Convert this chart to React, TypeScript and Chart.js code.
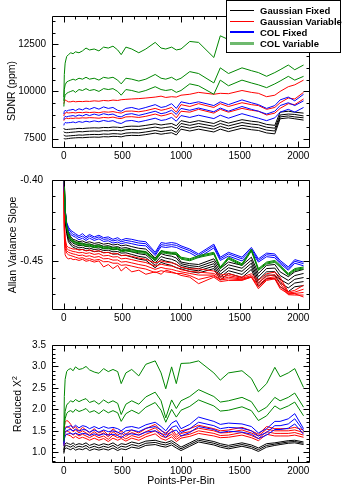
import React, { useEffect, useRef } from "react";
import { Chart, registerables } from "chart.js";

Chart.register(...registerables);

const FONT = '"Liberation Sans", Arial, Helvetica, sans-serif';

// ---------- shared x values (points per bin) ----------
const PPB = [
  1, 5, 12, 25, 40, 60, 80, 100, 130, 160,
  190, 220, 260, 300, 340, 380, 420, 460, 490, 530,
  580, 640, 700, 780, 830, 870, 920, 960, 1000, 1075,
  1150, 1280, 1335, 1405, 1520, 1600, 1660, 1730, 1800, 1845,
  1915, 1970, 2045,
];

const X_LABEL_VALUES = [0, 500, 1000, 1500, 2000];
const X_LABEL_TEXT = ["0", "500", "1000", "1500", "2000"];

const SDNR_TICK_VALUES = [7500, 10000, 12500];
const SDNR_TICK_TEXT = ["7500", "10000", "12500"];
const SLOPE_TICK_VALUES = [-0.45, -0.4];
const SLOPE_TICK_TEXT = ["-0.45", "-0.40"];
const CHI_TICK_VALUES = [1, 1.5, 2, 2.5, 3, 3.5];
const CHI_TICK_TEXT = ["1.0", "1.5", "2.0", "2.5", "3.0", "3.5"];

const LEGEND_LABELS = ["Gaussian Fixed", "Gaussian Variable", "COL Fixed", "COL Variable"];
const LINE_COLORS = ["#000000", "#ff0000", "#0000ff", "rgb(0,135,0)"];
const LEGEND_SAMPLE_COLORS = ["#000000", "#ff0000", "#0000ff", "rgb(110,185,110)"];
const LEGEND_SAMPLE_WIDTHS = [1, 1, 2, 3];

// ---------- SDNR (ppm) ----------
const SDNR_GF_1 = [
  8050, 8000, 7990, 7980, 7990, 8000, 8010, 8020, 8040, 8030,
  8050, 8060, 8070, 8060, 8090, 8080, 8110, 8100, 8080, 8140,
  8160, 8150, 8200, 8280, 8220, 8260, 8300, 8180, 8450, 8350,
  8450, 8300, 8450, 8320, 8500, 8420, 8380, 8250, 8200, 8900,
  8950, 8900, 8850,
];
const SDNR_GF_2 = [
  7870, 7830, 7820, 7810, 7815, 7830, 7840, 7850, 7870, 7860,
  7880, 7890, 7900, 7890, 7920, 7910, 7940, 7930, 7910, 7970,
  7990, 7980, 8030, 8110, 8050, 8090, 8130, 8010, 8300, 8200,
  8300, 8150, 8300, 8170, 8350, 8270, 8230, 8100, 8050, 8750,
  8800, 8780, 8700,
];
const SDNR_GF_3 = [
  7700, 7660, 7640, 7630, 7640, 7650, 7660, 7670, 7690, 7680,
  7700, 7710, 7720, 7710, 7740, 7730, 7760, 7750, 7730, 7790,
  7810, 7800, 7850, 7930, 7870, 7910, 7950, 7830, 8150, 8050,
  8150, 8000, 8150, 8020, 8200, 8120, 8080, 7950, 7900, 8650,
  8700, 8650, 8600,
];
const SDNR_GF_4 = [
  7520, 7490, 7480, 7490, 7500, 7520, 7530, 7540, 7550, 7545,
  7560, 7570, 7580, 7570, 7600, 7590, 7620, 7610, 7590, 7650,
  7670, 7660, 7710, 7790, 7730, 7770, 7810, 7690, 8000, 7900,
  8000, 7850, 8000, 7870, 8050, 7970, 7930, 7800, 7750, 8550,
  8600, 8550, 8480,
];
const SDNR_GV_1 = [
  9350, 9450, 9550, 9500, 9450, 9450, 9480, 9450, 9470, 9460,
  9480, 9470, 9500, 9480, 9520, 9500, 9540, 9520, 9560, 9580,
  9600, 9620, 9650, 9700, 9750, 9680, 9720, 9700, 9800, 9850,
  9950, 9850, 9900, 9880, 10050, 9950, 9900, 9720, 9800, 10000,
  10250, 10350, 10600,
];
const SDNR_GV_2 = [
  8700, 8800, 8850, 8880, 8860, 8870, 8880, 8860, 8890, 8870,
  8900, 8880, 8900, 8870, 8920, 8900, 8930, 8880, 8850, 8950,
  8960, 8920, 8980, 9100, 9000, 9050, 9150, 8900, 9300, 9200,
  9350, 9150, 9350, 9200, 9400, 9300, 9250, 9050, 9150, 9400,
  9650, 9600, 9950,
];
const SDNR_GV_3 = [
  8450, 8520, 8550, 8580, 8560, 8580, 8570, 8590, 8580, 8600,
  8590, 8610, 8600, 8580, 8620, 8600, 8640, 8580, 8560, 8650,
  8660, 8620, 8680, 8800, 8700, 8750, 8850, 8600, 8950, 8900,
  9050, 8850, 9050, 8900, 9100, 9000, 8950, 8750, 8850, 9100,
  9350, 9300, 9600,
];
const SDNR_CF_1 = [
  8800, 8950, 9000, 8950, 9000, 9020, 9050, 8980, 9080, 9020,
  9120, 9050, 9150, 9060, 9180, 9100, 9150, 9000, 8950, 9100,
  9150, 9050, 9150, 9300, 9150, 9200, 9350, 9100, 9450, 9350,
  9450, 9250, 9450, 9300, 9550, 9400, 9300, 9100, 9250, 9550,
  9700, 9500, 9850,
];
const SDNR_CF_2 = [
  8500, 8620, 8680, 8650, 8680, 8700, 8720, 8680, 8750, 8700,
  8780, 8720, 8800, 8730, 8820, 8760, 8800, 8680, 8650, 8780,
  8820, 8730, 8820, 8950, 8820, 8870, 9000, 8780, 9100, 9000,
  9120, 8920, 9120, 8950, 9200, 9050, 8950, 8800, 8950, 9250,
  9400, 9250, 9500,
];
const SDNR_CF_3 = [
  8200, 8300, 8350, 8330, 8340, 8350, 8380, 8340, 8400, 8360,
  8420, 8380, 8440, 8390, 8460, 8410, 8450, 8340, 8300, 8430,
  8460, 8380, 8460, 8580, 8460, 8500, 8620, 8420, 8720, 8620,
  8740, 8560, 8740, 8580, 8820, 8680, 8580, 8450, 8600, 8900,
  9050, 8900, 9150,
];
const SDNR_CV_1 = [
  9700, 10900, 11500, 11850, 11950, 12050, 12000, 12100, 12050, 12150,
  12300, 12200, 12250, 12150, 12350, 12300, 12400, 12200, 11950, 12350,
  12250, 12050, 12250, 12600, 12300, 12250, 12350, 12200, 12250, 12650,
  12600, 11800, 12950, 12750, 12900, 12800, 12700, 12600, 12750, 12850,
  12950, 12800, 12900,
];
const SDNR_CV_2 = [
  9500, 10100, 10350, 10500, 10550, 10600, 10650, 10600, 10700, 10650,
  10750, 10650, 10700, 10600, 10750, 10700, 10750, 10600, 10400, 10700,
  10650, 10550, 10650, 10900, 10700, 10650, 10750, 10600, 10700, 11050,
  10950, 10450, 11250, 10950, 11250, 11100, 11000, 10800, 11000, 11150,
  11400, 11150, 11400,
];
const SDNR_CV_3 = [
  9200, 9600, 9800, 9900, 9950, 10000, 10050, 9950, 10100, 10050,
  10150, 10050, 10100, 10000, 10150, 10100, 10150, 10000, 9800, 10100,
  10050, 9950, 10050, 10250, 10100, 10050, 10100, 9950, 10050, 10400,
  10300, 9850, 10600, 10300, 10600, 10450, 10350, 10200, 10400, 10550,
  10800, 10600, 10800,
];

// ---------- Allan variance slope ----------
const SLOPE_GF_1 = [
  -0.37, -0.40, -0.418, -0.427, -0.432, -0.435, -0.4365, -0.437, -0.438, -0.4375,
  -0.4385, -0.438, -0.439, -0.4385, -0.4395, -0.439, -0.440, -0.4395, -0.4405, -0.440,
  -0.441, -0.442, -0.4425, -0.448, -0.4435, -0.4445, -0.445, -0.446, -0.4505, -0.4515,
  -0.452, -0.4485, -0.4545, -0.4505, -0.4525, -0.4475, -0.4575, -0.4525, -0.452, -0.4565,
  -0.4595, -0.4565, -0.455,
];
const SLOPE_GF_2 = [
  -0.372, -0.402, -0.42, -0.4285, -0.4335, -0.4362, -0.4377, -0.4382, -0.4392, -0.4388,
  -0.4397, -0.4393, -0.4402, -0.4398, -0.4408, -0.4404, -0.4414, -0.441, -0.442, -0.4416,
  -0.4426, -0.4437, -0.4443, -0.4495, -0.4453, -0.4463, -0.4469, -0.448, -0.4515, -0.4527,
  -0.4533, -0.45, -0.4562, -0.4522, -0.4543, -0.4493, -0.4595, -0.4545, -0.4542, -0.4588,
  -0.4618, -0.4588, -0.4575,
];
const SLOPE_GF_3 = [
  -0.374, -0.404, -0.422, -0.430, -0.435, -0.4375, -0.439, -0.4395, -0.4405, -0.4401,
  -0.441, -0.4406, -0.4415, -0.4411, -0.4421, -0.4418, -0.4428, -0.4425, -0.4435, -0.4432,
  -0.4442, -0.4454, -0.446, -0.451, -0.4471, -0.4481, -0.4488, -0.45, -0.4526, -0.4539,
  -0.4546, -0.4515, -0.458, -0.454, -0.4562, -0.4512, -0.4615, -0.4565, -0.4564, -0.4611,
  -0.4641, -0.4611, -0.46,
];
const SLOPE_GF_4 = [
  -0.376, -0.406, -0.424, -0.4315, -0.4365, -0.4388, -0.4403, -0.4408, -0.4418, -0.4414,
  -0.4423, -0.4419, -0.4428, -0.4424, -0.4434, -0.4432, -0.4442, -0.444, -0.445, -0.4448,
  -0.4458, -0.447, -0.4477, -0.4525, -0.4489, -0.4499, -0.4507, -0.452, -0.4537, -0.4551,
  -0.4559, -0.453, -0.4598, -0.4558, -0.4581, -0.4531, -0.4635, -0.4585, -0.4586, -0.4634,
  -0.4664, -0.4634, -0.4625,
];
const SLOPE_GF_5 = [
  -0.378, -0.408, -0.426, -0.433, -0.438, -0.440, -0.4415, -0.442, -0.443, -0.4427,
  -0.4436, -0.4432, -0.4441, -0.4437, -0.4447, -0.4446, -0.4456, -0.4455, -0.4465, -0.4464,
  -0.4474, -0.4487, -0.4494, -0.454, -0.4507, -0.4517, -0.4526, -0.454, -0.4547, -0.4563,
  -0.4572, -0.4545, -0.4615, -0.4575, -0.46, -0.455, -0.4655, -0.4605, -0.4608, -0.4657,
  -0.4687, -0.4657, -0.465,
];
const SLOPE_GV_1 = [
  -0.39, -0.425, -0.436, -0.4405, -0.4415, -0.442, -0.4425, -0.4425, -0.443, -0.4428,
  -0.4435, -0.443, -0.444, -0.4435, -0.4448, -0.4445, -0.4455, -0.4452, -0.4465, -0.4462,
  -0.447, -0.448, -0.4488, -0.451, -0.4498, -0.4505, -0.451, -0.4518, -0.4537, -0.4547,
  -0.4547, -0.456, -0.4585, -0.4577, -0.4598, -0.4577, -0.4618, -0.4577, -0.4567, -0.4598,
  -0.4689, -0.4679, -0.4648,
];
const SLOPE_GV_2 = [
  -0.392, -0.427, -0.438, -0.442, -0.443, -0.4435, -0.444, -0.4442, -0.4448, -0.4446,
  -0.4452, -0.4448, -0.4458, -0.4453, -0.4467, -0.4464, -0.4474, -0.4472, -0.4485, -0.4482,
  -0.449, -0.45, -0.4508, -0.453, -0.4518, -0.4525, -0.453, -0.4538, -0.4552, -0.4562,
  -0.4567, -0.4575, -0.4598, -0.4588, -0.4605, -0.4588, -0.4632, -0.4593, -0.4582, -0.4618,
  -0.4695, -0.469, -0.4672,
];
const SLOPE_GV_3 = [
  -0.394, -0.429, -0.44, -0.4435, -0.4445, -0.445, -0.4455, -0.4458, -0.4465, -0.4462,
  -0.447, -0.4466, -0.4476, -0.4471, -0.4485, -0.4483, -0.4493, -0.4492, -0.4505, -0.4502,
  -0.451, -0.452, -0.4528, -0.455, -0.4538, -0.4545, -0.455, -0.4558, -0.4565, -0.4575,
  -0.4585, -0.4585, -0.461, -0.4598, -0.461, -0.4595, -0.4645, -0.4605, -0.4595, -0.4638,
  -0.4702, -0.4698, -0.4692,
];
const SLOPE_GV_4 = [
  -0.396, -0.431, -0.442, -0.445, -0.446, -0.4465, -0.447, -0.4475, -0.4482, -0.4478,
  -0.4488, -0.4484, -0.4494, -0.4489, -0.4503, -0.4502, -0.4512, -0.4512, -0.4525, -0.4522,
  -0.453, -0.454, -0.4548, -0.457, -0.4558, -0.4565, -0.457, -0.4575, -0.4575, -0.4588,
  -0.4612, -0.459, -0.4615, -0.4608, -0.4614, -0.4597, -0.4658, -0.4612, -0.4603, -0.4655,
  -0.4706, -0.4708, -0.4708,
];
const SLOPE_GV_5 = [
  -0.398, -0.435, -0.446, -0.4478, -0.4485, -0.4482, -0.449, -0.4488, -0.4495, -0.4488,
  -0.450, -0.4495, -0.4505, -0.4498, -0.4535, -0.452, -0.4545, -0.4525, -0.456, -0.4535,
  -0.4565, -0.4555, -0.458, -0.4565, -0.458, -0.4555, -0.4565, -0.4575, -0.4587, -0.4598,
  -0.4638, -0.4598, -0.4625, -0.4618, -0.4618, -0.4598, -0.4669, -0.4618, -0.4608, -0.4669,
  -0.470, -0.470, -0.472,
];
const SLOPE_CF_1 = [
  -0.38, -0.405, -0.418, -0.426, -0.429, -0.431, -0.432, -0.433, -0.4345, -0.433,
  -0.435, -0.4335, -0.435, -0.434, -0.4355, -0.435, -0.4365, -0.4355, -0.437, -0.436,
  -0.4365, -0.4375, -0.438, -0.4445, -0.4385, -0.439, -0.4385, -0.439, -0.4405, -0.4425,
  -0.4455, -0.4395, -0.4475, -0.4445, -0.4475, -0.4415, -0.4485, -0.445, -0.4455, -0.4495,
  -0.4535, -0.449, -0.4505,
];
const SLOPE_CF_2 = [
  -0.381, -0.406, -0.419, -0.427, -0.430, -0.432, -0.4335, -0.434, -0.4355, -0.4345,
  -0.436, -0.4345, -0.436, -0.435, -0.4365, -0.4362, -0.4375, -0.4368, -0.438, -0.4372,
  -0.4378, -0.4388, -0.4392, -0.4455, -0.4398, -0.4402, -0.4398, -0.4402, -0.4415, -0.4435,
  -0.4465, -0.4405, -0.4485, -0.4455, -0.4485, -0.4425, -0.4495, -0.446, -0.4465, -0.4505,
  -0.4545, -0.450, -0.4515,
];
const SLOPE_CF_3 = [
  -0.382, -0.407, -0.420, -0.428, -0.4315, -0.4335, -0.4345, -0.4352, -0.4368, -0.4358,
  -0.4372, -0.4358, -0.4372, -0.4362, -0.4378, -0.4374, -0.4388, -0.4382, -0.4392, -0.4385,
  -0.4392, -0.4402, -0.4405, -0.4465, -0.441, -0.4415, -0.441, -0.4415, -0.4428, -0.4448,
  -0.4478, -0.4418, -0.4495, -0.4468, -0.4498, -0.4438, -0.4505, -0.4472, -0.4478, -0.4515,
  -0.4555, -0.4512, -0.4528,
];
const SLOPE_CV_1 = [
  -0.37, -0.40, -0.418, -0.428, -0.433, -0.436, -0.437, -0.438, -0.4385, -0.439,
  -0.4395, -0.4395, -0.4405, -0.440, -0.4412, -0.441, -0.4418, -0.4415, -0.443, -0.4425,
  -0.443, -0.4435, -0.444, -0.4485, -0.4435, -0.444, -0.4445, -0.4445, -0.4475, -0.4485,
  -0.4465, -0.4445, -0.4535, -0.4475, -0.4515, -0.4425, -0.4545, -0.4505, -0.4495, -0.4525,
  -0.4575, -0.4545, -0.4535,
];
const SLOPE_CV_2 = [
  -0.371, -0.401, -0.4186, -0.4286, -0.4336, -0.4366, -0.4376, -0.4386, -0.4391, -0.4396,
  -0.4401, -0.4401, -0.4411, -0.4406, -0.4418, -0.4416, -0.4424, -0.4421, -0.4436, -0.4431,
  -0.4436, -0.4441, -0.4446, -0.4491, -0.4441, -0.4446, -0.4451, -0.4451, -0.4481, -0.4491,
  -0.4471, -0.4451, -0.4541, -0.4481, -0.4521, -0.4431, -0.4551, -0.4511, -0.4501, -0.4531,
  -0.4581, -0.4551, -0.4541,
];
const SLOPE_CV_3 = [
  -0.372, -0.402, -0.4192, -0.4292, -0.4342, -0.4372, -0.4382, -0.4392, -0.4397, -0.4402,
  -0.4407, -0.4407, -0.4417, -0.4412, -0.4424, -0.4422, -0.443, -0.4427, -0.4442, -0.4437,
  -0.4442, -0.4447, -0.4452, -0.4497, -0.4447, -0.4452, -0.4457, -0.4457, -0.4487, -0.4497,
  -0.4477, -0.4457, -0.4547, -0.4487, -0.4527, -0.4437, -0.4557, -0.4517, -0.4507, -0.4537,
  -0.4587, -0.4557, -0.4547,
];

// ---------- Reduced chi-square ----------
const CHI_GF_1 = [
  1.05, 1.15, 1.2, 1.22, 1.2, 1.18, 1.22, 1.17, 1.2, 1.18,
  1.22, 1.16, 1.2, 1.16, 1.2, 1.17, 1.22, 1.15, 1.2, 1.18,
  1.24, 1.2, 1.26, 1.28, 1.24, 1.22, 1.27, 1.2, 1.12, 1.22,
  1.32, 1.25, 1.2, 1.16, 1.22, 1.17, 1.1, 1.2, 1.22, 1.24,
  1.27, 1.28, 1.24,
];
const CHI_GF_2 = [
  1.0, 1.1, 1.15, 1.16, 1.14, 1.12, 1.16, 1.11, 1.14, 1.12,
  1.16, 1.1, 1.14, 1.1, 1.14, 1.11, 1.16, 1.09, 1.14, 1.12,
  1.18, 1.14, 1.21, 1.23, 1.19, 1.17, 1.22, 1.15, 1.08, 1.18,
  1.28, 1.21, 1.16, 1.12, 1.18, 1.13, 1.06, 1.16, 1.19, 1.21,
  1.24, 1.25, 1.21,
];
const CHI_GF_3 = [
  0.97, 1.05, 1.09, 1.1, 1.08, 1.06, 1.1, 1.05, 1.08, 1.06,
  1.1, 1.04, 1.08, 1.05, 1.08, 1.05, 1.1, 1.04, 1.08, 1.06,
  1.12, 1.09, 1.16, 1.18, 1.14, 1.12, 1.17, 1.1, 1.04, 1.14,
  1.24, 1.17, 1.12, 1.08, 1.14, 1.09, 1.02, 1.12, 1.16, 1.18,
  1.21, 1.22, 1.18,
];
const CHI_GV_1 = [
  1.3, 1.6, 1.7, 1.74, 1.72, 1.65, 1.55, 1.6, 1.5, 1.58,
  1.52, 1.45, 1.55, 1.45, 1.5, 1.4, 1.55, 1.45, 1.5, 1.42,
  1.52, 1.45, 1.55, 1.65, 1.5, 1.45, 1.55, 1.4, 1.5, 1.55,
  1.63, 1.55, 1.5, 1.52, 1.58, 1.5, 1.42, 1.6, 1.55, 1.55,
  1.55, 1.58, 1.52,
];
const CHI_GV_2 = [
  1.25, 1.5, 1.58, 1.6, 1.58, 1.55, 1.48, 1.52, 1.45, 1.5,
  1.45, 1.4, 1.48, 1.4, 1.45, 1.36, 1.48, 1.4, 1.45, 1.37,
  1.46, 1.4, 1.48, 1.57, 1.44, 1.4, 1.48, 1.35, 1.44, 1.48,
  1.56, 1.5, 1.45, 1.46, 1.52, 1.45, 1.38, 1.54, 1.5, 1.5,
  1.5, 1.52, 1.46,
];
const CHI_GV_3 = [
  1.2, 1.4, 1.48, 1.5, 1.48, 1.45, 1.4, 1.44, 1.38, 1.42,
  1.38, 1.34, 1.4, 1.34, 1.38, 1.3, 1.4, 1.34, 1.38, 1.31,
  1.39, 1.34, 1.42, 1.5, 1.38, 1.34, 1.42, 1.3, 1.38, 1.42,
  1.5, 1.44, 1.39, 1.4, 1.46, 1.39, 1.32, 1.48, 1.44, 1.44,
  1.44, 1.46, 1.4,
];
const CHI_GV_4 = [
  1.15, 1.32, 1.4, 1.42, 1.4, 1.38, 1.33, 1.37, 1.32, 1.35,
  1.32, 1.28, 1.33, 1.28, 1.32, 1.25, 1.33, 1.28, 1.32, 1.26,
  1.33, 1.28, 1.36, 1.43, 1.32, 1.28, 1.36, 1.25, 1.33, 1.37,
  1.44, 1.38, 1.34, 1.35, 1.4, 1.34, 1.27, 1.42, 1.38, 1.38,
  1.38, 1.4, 1.35,
];
const CHI_CF_1 = [
  1.25, 1.45, 1.55, 1.58, 1.6, 1.62, 1.58, 1.63, 1.57, 1.62,
  1.6, 1.55, 1.6, 1.55, 1.6, 1.56, 1.58, 1.55, 1.5, 1.58,
  1.6, 1.56, 1.64, 1.7, 1.6, 1.5, 1.68, 1.74, 1.55, 1.65,
  1.82, 1.72, 1.65, 1.68, 1.66, 1.6, 1.45, 1.55, 1.72, 1.72,
  1.78, 1.9, 1.55,
];
const CHI_CF_2 = [
  1.2, 1.38, 1.46, 1.5, 1.52, 1.53, 1.5, 1.54, 1.49, 1.53,
  1.52, 1.47, 1.52, 1.47, 1.52, 1.48, 1.5, 1.47, 1.42, 1.5,
  1.52, 1.48, 1.56, 1.6, 1.52, 1.42, 1.58, 1.62, 1.46, 1.55,
  1.7, 1.62, 1.55, 1.58, 1.56, 1.5, 1.38, 1.46, 1.62, 1.62,
  1.66, 1.78, 1.5,
];
const CHI_CF_3 = [
  1.15, 1.3, 1.38, 1.42, 1.43, 1.44, 1.42, 1.45, 1.41, 1.44,
  1.43, 1.39, 1.43, 1.39, 1.43, 1.4, 1.42, 1.39, 1.34, 1.42,
  1.43, 1.4, 1.47, 1.5, 1.43, 1.35, 1.48, 1.52, 1.38, 1.46,
  1.6, 1.53, 1.46, 1.49, 1.47, 1.42, 1.32, 1.4, 1.53, 1.53,
  1.56, 1.66, 1.42,
];
const CHI_CV_1 = [
  1.35, 2.3, 2.7, 2.88, 2.93, 2.95, 2.9, 2.99, 2.93, 2.95,
  3.0, 2.92, 2.87, 2.84, 2.95, 2.88, 2.93, 2.88, 2.6, 2.85,
  2.93, 2.78, 3.05, 3.13, 2.85, 2.48, 2.99, 2.6, 3.07, 3.08,
  3.13, 2.85, 2.68, 2.85, 2.9, 2.72, 2.41, 2.6, 2.98, 2.76,
  2.85, 2.95, 2.51,
];
const CHI_CV_2 = [
  1.3, 1.7, 1.95, 2.1, 2.15, 2.2, 2.17, 2.23, 2.18, 2.22,
  2.25, 2.16, 2.2, 2.12, 2.22, 2.15, 2.2, 2.14, 1.88, 2.12,
  2.2, 2.12, 2.29, 2.4, 2.2, 1.8, 2.22, 2.02, 2.2, 2.3,
  2.46, 2.3, 2.17, 2.2, 2.28, 2.18, 1.94, 2.05, 2.28, 2.2,
  2.28, 2.38, 2.05,
];
const CHI_CV_3 = [
  1.25, 1.55, 1.78, 1.9, 1.95, 1.97, 1.93, 2.0, 1.95, 1.98,
  2.02, 1.93, 1.97, 1.9, 1.99, 1.92, 1.97, 1.92, 1.72, 1.9,
  1.98, 1.9, 2.05, 2.16, 1.98, 1.7, 2.0, 1.82, 1.98, 2.07,
  2.22, 2.08, 1.96, 1.98, 2.06, 1.97, 1.74, 1.85, 2.08, 2.0,
  2.08, 2.17, 1.85,
];

// minor tick helper (tick positions only, not data)
function steps(a: number, b: number, s: number): number[] {
  const out: number[] = [];
  for (let v = a; v <= b + s * 1e-6; v += s) out.push(Math.round(v * 10000) / 10000);
  return out;
}
const X_MINOR = steps(0, 2000, 100);

type Panel = {
  top: number;
  height: number;
  areaTop: number;
  areaBottom: number;
  yMin: number;
  yMax: number;
  tickValues: number[];
  tickText: string[];
  minor: number[];
  labelPad: number;
  groups: number[][][]; // [GF, GV, CF, CV]
};

const PANELS: Panel[] = [
  {
    top: 0, height: 165, areaTop: 16, areaBottom: 148,
    yMin: 7000, yMax: 14000,
    tickValues: SDNR_TICK_VALUES, tickText: SDNR_TICK_TEXT,
    minor: steps(7500, 13750, 625), labelPad: 6,
    groups: [
      [SDNR_GF_1, SDNR_GF_2, SDNR_GF_3, SDNR_GF_4],
      [SDNR_GV_1, SDNR_GV_2, SDNR_GV_3],
      [SDNR_CF_1, SDNR_CF_2, SDNR_CF_3],
      [SDNR_CV_1, SDNR_CV_2, SDNR_CV_3],
    ],
  },
  {
    top: 165, height: 160, areaTop: 15, areaBottom: 146,
    yMin: -0.48, yMax: -0.4,
    tickValues: SLOPE_TICK_VALUES, tickText: SLOPE_TICK_TEXT,
    minor: steps(-0.47, -0.41, 0.01), labelPad: 9,
    groups: [
      [SLOPE_GF_1, SLOPE_GF_2, SLOPE_GF_3, SLOPE_GF_4, SLOPE_GF_5],
      [SLOPE_GV_1, SLOPE_GV_2, SLOPE_GV_3, SLOPE_GV_4, SLOPE_GV_5],
      [SLOPE_CF_1, SLOPE_CF_2, SLOPE_CF_3],
      [SLOPE_CV_1, SLOPE_CV_2, SLOPE_CV_3],
    ],
  },
  {
    top: 325, height: 167, areaTop: 20, areaBottom: 138,
    yMin: 0.75, yMax: 3.5,
    tickValues: CHI_TICK_VALUES, tickText: CHI_TICK_TEXT,
    minor: steps(0.8, 3.4, 0.1), labelPad: 6,
    groups: [
      [CHI_GF_1, CHI_GF_2, CHI_GF_3],
      [CHI_GV_1, CHI_GV_2, CHI_GV_3, CHI_GV_4],
      [CHI_CF_1, CHI_CF_2, CHI_CF_3],
      [CHI_CV_1, CHI_CV_2, CHI_CV_3],
    ],
  },
];

function framePlugin(p: Panel) {
  return {
    id: "frameTicks",
    afterDatasetsDraw(chart: any) {
      const { ctx, chartArea: a } = chart;
      const xs = chart.scales.x;
      const ys = chart.scales.y;
      const L = Math.round(a.left) + 0.5;
      const R = Math.round(a.right) - 0.5;
      const T = Math.round(a.top) + 0.5;
      const B = Math.round(a.bottom) - 0.5;
      ctx.save();
      ctx.strokeStyle = "#000";
      ctx.lineWidth = 1;
      ctx.beginPath();
      ctx.rect(L, T, R - L, B - T);
      const xt = (v: number, len: number) => {
        const px = Math.round(xs.getPixelForValue(v)) + 0.5;
        ctx.moveTo(px, B);
        ctx.lineTo(px, B - len);
        ctx.moveTo(px, T);
        ctx.lineTo(px, T + len);
      };
      const yt = (v: number, len: number) => {
        const py = Math.round(ys.getPixelForValue(v)) + 0.5;
        ctx.moveTo(L, py);
        ctx.lineTo(L + len, py);
        ctx.moveTo(R, py);
        ctx.lineTo(R - len, py);
      };
      X_MINOR.forEach((v) => xt(v, 3));
      X_LABEL_VALUES.forEach((v) => xt(v, 6));
      p.minor.forEach((v) => yt(v, 3));
      p.tickValues.forEach((v) => yt(v, 6));
      ctx.stroke();
      ctx.restore();
    },
  };
}

function buildConfig(p: Panel): any {
  const datasets: any[] = [];
  p.groups.forEach((lines, gi) => {
    lines.forEach((vals) => {
      datasets.push({
        data: PPB.map((x, i) => ({ x, y: vals[i] })),
        borderColor: LINE_COLORS[gi],
        borderWidth: 1,
        pointRadius: 0,
        tension: 0,
        fill: false,
        clip: 0,
        order: 3 - gi,
      });
    });
  });
  const tickFont = { family: FONT, size: 10 };
  return {
    type: "line",
    data: { datasets },
    options: {
      responsive: false,
      maintainAspectRatio: false,
      animation: false,
      events: [],
      layout: { padding: { left: 0, right: 34, top: p.areaTop, bottom: 0 } },
      plugins: { legend: { display: false }, tooltip: { enabled: false } },
      scales: {
        x: {
          type: "linear",
          min: -100,
          max: 2100,
          grid: { display: false, drawTicks: false },
          border: { display: false },
          afterBuildTicks: (s: any) => {
            s.ticks = X_LABEL_VALUES.map((v) => ({ value: v }));
          },
          afterFit: (s: any) => {
            s.height = p.height - p.areaBottom;
          },
          ticks: {
            autoSkip: false,
            maxRotation: 0,
            padding: 2,
            color: "#000",
            font: tickFont,
            callback: (_v: any, i: number) => X_LABEL_TEXT[i],
          },
        },
        y: {
          type: "linear",
          min: p.yMin,
          max: p.yMax,
          grid: { display: false, drawTicks: false },
          border: { display: false },
          afterBuildTicks: (s: any) => {
            s.ticks = p.tickValues.map((v) => ({ value: v }));
          },
          afterFit: (s: any) => {
            s.width = 52;
          },
          ticks: {
            autoSkip: false,
            padding: p.labelPad,
            color: "#000",
            font: tickFont,
            callback: (_v: any, i: number) => p.tickText[i],
          },
        },
      },
    },
    plugins: [framePlugin(p)],
  };
}

const titleStyle = (cx: number, cy: number, rotate: boolean): React.CSSProperties => ({
  position: "absolute",
  left: cx,
  top: cy,
  transform: rotate ? "translate(-50%,-50%) rotate(-90deg)" : "translate(-50%,-50%)",
  whiteSpace: "nowrap",
  font: `10.5px ${FONT}`,
  color: "#000",
  lineHeight: "12px",
});

export default function App() {
  const r0 = useRef<HTMLCanvasElement>(null);
  const r1 = useRef<HTMLCanvasElement>(null);
  const r2 = useRef<HTMLCanvasElement>(null);
  const refs = [r0, r1, r2];

  useEffect(() => {
    const charts = PANELS.map((p, i) => new Chart(refs[i].current as HTMLCanvasElement, buildConfig(p)));
    return () => charts.forEach((c) => c.destroy());
  }, []);

  return (
    <div style={{ position: "fixed", left: 0, top: 0, width: 344, height: 492, background: "#fff", overflow: "hidden" }}>
      {PANELS.map((p, i) => (
        <canvas
          key={i}
          ref={refs[i]}
          width={344}
          height={p.height}
          style={{ position: "absolute", left: 0, top: p.top, width: 344, height: p.height, display: "block" }}
        />
      ))}
      <div style={titleStyle(10.5, 91, true)}>SDNR (ppm)</div>
      <div style={titleStyle(11.5, 245, true)}>Allan Variance Slope</div>
      <div style={titleStyle(18, 404, true)}>
        Reduced X<span style={{ fontSize: "7px", position: "relative", top: "-4px" }}>2</span>
      </div>
      <div style={titleStyle(181, 480, false)}>Points-Per-Bin</div>
      <div
        style={{
          position: "absolute",
          left: 226,
          top: 0,
          width: 115,
          height: 53,
          border: "1px solid #000",
          background: "#fff",
          boxSizing: "border-box",
        }}
      >
        {LEGEND_LABELS.map((label, i) => (
          <div
            key={label}
            style={{
              position: "absolute",
              left: 3,
              top: 3.5 + i * 11.1,
              height: 11,
              display: "flex",
              alignItems: "center",
              whiteSpace: "nowrap",
            }}
          >
            <span
              style={{
                display: "inline-block",
                width: 24,
                height: 0,
                borderTop: `${LEGEND_SAMPLE_WIDTHS[i]}px solid ${LEGEND_SAMPLE_COLORS[i]}`,
              }}
            />
            <span style={{ marginLeft: 6, font: `bold 9.5px ${FONT}`, color: "#000", lineHeight: "11px" }}>{label}</span>
          </div>
        ))}
      </div>
    </div>
  );
}
